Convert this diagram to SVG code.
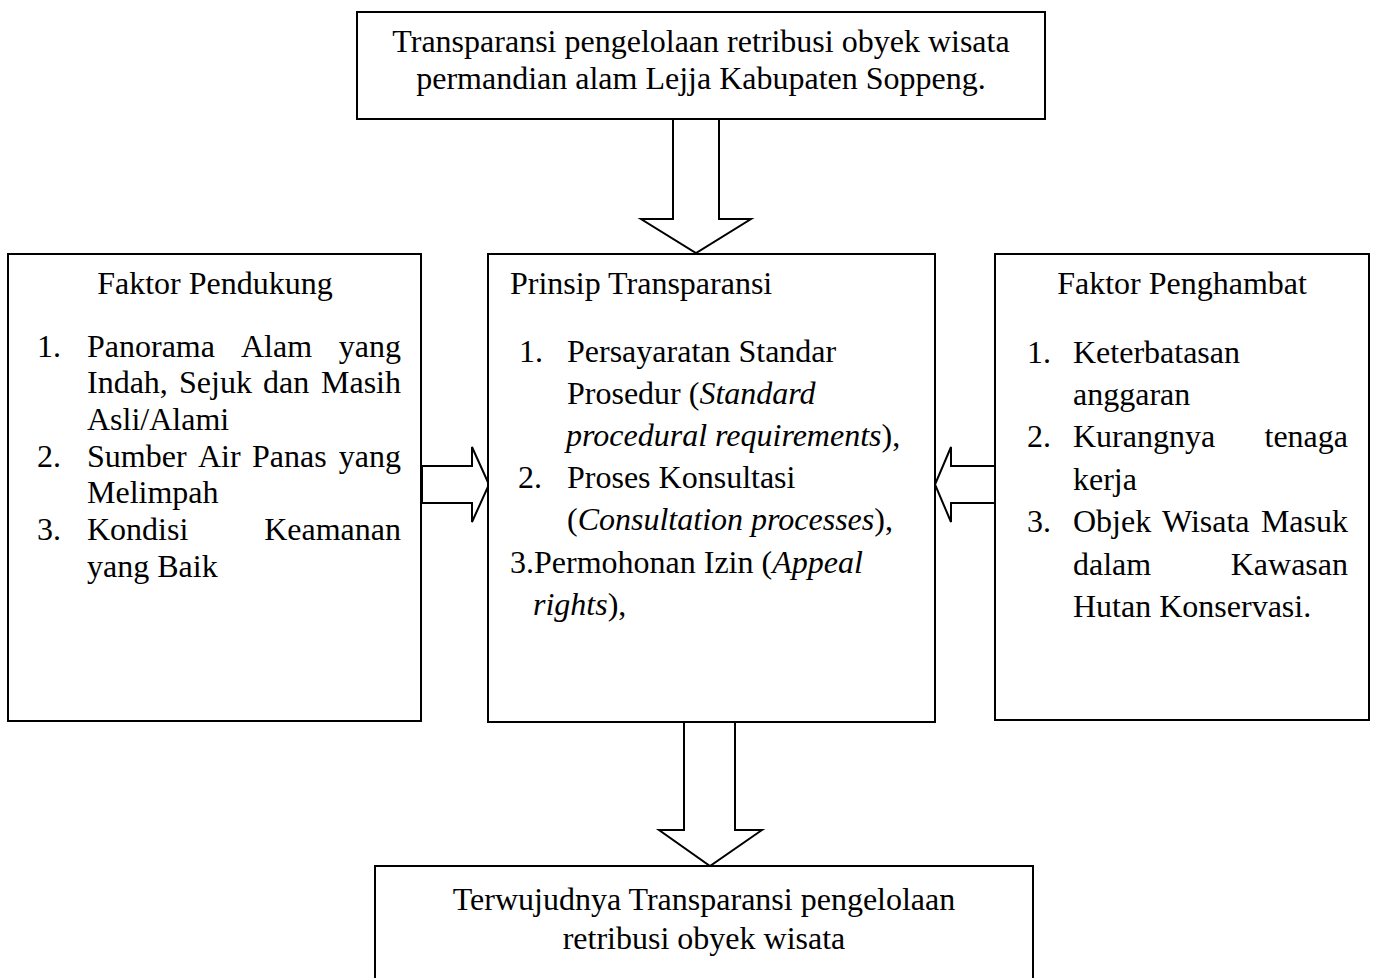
<svg xmlns="http://www.w3.org/2000/svg" width="1376" height="978" viewBox="0 0 1376 978">
<style>
.box{fill:#fff;stroke:#000;stroke-width:2}
.arr{fill:#fff;stroke:#000;stroke-width:2;stroke-linejoin:miter}
text{font-family:"Liberation Serif","Times New Roman",serif;font-size:32px;fill:#000}
.c{text-anchor:middle}
.e{text-anchor:end}
.i{font-style:italic}
</style>
<rect width="1376" height="978" fill="#fff"/>
<g id="connectors">
<polygon class="arr" points="673,119 719,119 719,219 751,219 696,253 641,219 673,219"/>
<polygon class="arr" points="422,466 472,466 472,447 489,484.5 472,522 472,503 422,503"/>
<polygon class="arr" points="995,466 951,466 951,447 935,484.5 951,522 951,503 995,503"/>
<polygon class="arr" points="684,722 735,722 735,830 762,830 710,866 659,830 684,830"/>
</g>
<g id="node-top">
<rect class="box" x="357" y="12" width="688" height="107"/>
<text class="c" x="701" y="52">Transparansi pengelolaan retribusi obyek wisata</text>
<text class="c" x="701" y="89">permandian alam Lejja Kabupaten Soppeng.</text>
</g>
<g id="node-pendukung">
<rect class="box" x="8" y="254" width="413" height="467"/>
<text class="c" x="215" y="294">Faktor Pendukung</text>
<text x="37" y="357">1.</text>
<text x="87" y="357">Panorama</text><text x="241" y="357">Alam</text><text class="e" x="401" y="357">yang</text>
<text x="87" y="393">Indah,</text><text x="179" y="393">Sejuk</text><text x="263" y="393">dan</text><text class="e" x="401" y="393">Masih</text>
<text x="87" y="430">Asli/Alami</text>
<text x="37" y="467">2.</text>
<text x="87" y="467">Sumber</text><text x="198" y="467">Air</text><text x="252" y="467">Panas</text><text class="e" x="401" y="467">yang</text>
<text x="87" y="503">Melimpah</text>
<text x="37" y="540">3.</text>
<text x="87" y="540">Kondisi</text><text class="e" x="401" y="540">Keamanan</text>
<text x="87" y="577">yang Baik</text>
</g>
<g id="node-prinsip">
<rect class="box" x="488" y="254" width="447" height="468"/>
<text x="510" y="294">Prinsip Transparansi</text>
<text x="519" y="362">1.</text>
<text x="567" y="362">Persayaratan Standar</text>
<text x="567" y="404">Prosedur (<tspan class="i">Standard</tspan></text>
<text x="566" y="446"><tspan class="i">procedural requirements</tspan>),</text>
<text x="518" y="488">2.</text>
<text x="567" y="488">Proses Konsultasi</text>
<text x="567" y="530">(<tspan class="i">Consultation processes</tspan>),</text>
<text x="510" y="573">3.Permohonan Izin (<tspan class="i">Appeal</tspan></text>
<text x="533" y="615"><tspan class="i">rights</tspan>),</text>
</g>
<g id="node-penghambat">
<rect class="box" x="995" y="254" width="374" height="466"/>
<text class="c" x="1182" y="294">Faktor Penghambat</text>
<text x="1027" y="363">1.</text>
<text x="1073" y="363">Keterbatasan</text>
<text x="1073" y="405">anggaran</text>
<text x="1027" y="447">2.</text>
<text x="1073" y="447">Kurangnya</text><text class="e" x="1348" y="447">tenaga</text>
<text x="1073" y="490">kerja</text>
<text x="1027" y="532">3.</text>
<text x="1073" y="532">Objek</text><text x="1162" y="532">Wisata</text><text class="e" x="1348" y="532">Masuk</text>
<text x="1073" y="575">dalam</text><text class="e" x="1348" y="575">Kawasan</text>
<text x="1073" y="617">Hutan Konservasi.</text>
</g>
<g id="node-bottom">
<rect class="box" x="375" y="866" width="658" height="130"/>
<text class="c" x="704" y="910">Terwujudnya Transparansi pengelolaan</text>
<text class="c" x="704" y="949">retribusi obyek wisata</text>
</g>
</svg>
